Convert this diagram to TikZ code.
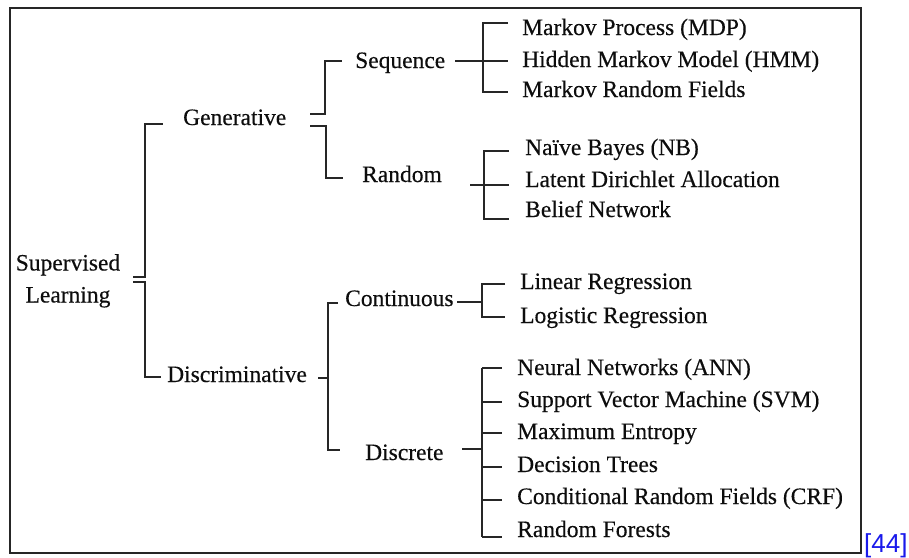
\documentclass[tikz,border=0pt]{standalone}
\usepackage{fontspec}
\setmainfont{Liberation Serif}[FakeBold=0.35]
\newfontfamily\refsans{Liberation Sans}
\begin{document}
\begin{tikzpicture}[x=1pt,y=-1pt,
  lbl/.style={anchor=base west,inner sep=0pt,text=black!95,
    font=\fontsize{23.5}{32}\selectfont},
  link/.style={draw=black!85,line width=1.4pt}]
\useasboundingbox (0,0) rectangle (909,557);
\draw[draw=black!85,line width=1.6pt] (10,8) rectangle (861,553);

% root
\node[inner sep=0pt,anchor=north,align=center,text=black!95,
  font=\fontsize{23.5}{32}\selectfont] (sup) at (68,254) {Supervised\\Learning};

% second level
\node[lbl] (gen) at (183,125) {Generative};
\node[lbl] (dis) at (167,382) {Discriminative};

% third level
\node[lbl] (seq) at (355,68) {Sequence};
\node[lbl] (ran) at (362,182) {Random};
\node[lbl] (con) at (345,306) {Continuous};
\node[lbl] (dsc) at (365,460) {Discrete};

% leaves
\node[lbl] (mdp) at (522,35) {Markov Process (MDP)};
\node[lbl] (hmm) at (522,67) {Hidden Markov Model (HMM)};
\node[lbl] (mrf) at (522,97) {Markov Random Fields};
\node[lbl] (nb)  at (525,155) {Naïve Bayes (NB)};
\node[lbl] (lda) at (525,187) {Latent Dirichlet Allocation};
\node[lbl] (bn)  at (525,217) {Belief Network};
\node[lbl] (lin) at (520,289) {Linear Regression};
\node[lbl] (log) at (520,323) {Logistic Regression};
\node[lbl] (ann) at (517,375) {Neural Networks (ANN)};
\node[lbl] (svm) at (517,407) {Support Vector Machine (SVM)};
\node[lbl] (me)  at (517,439) {Maximum Entropy};
\node[lbl] (dt)  at (517,472) {Decision Trees};
\node[lbl] (crf) at (517,504) {Conditional Random Fields (CRF)};
\node[lbl] (rf)  at (517,537) {Random Forests};

\node[anchor=base west,inner sep=0pt,text={rgb,255:red,25;green,25;blue,235},
  font=\refsans\fontsize{26}{30}\selectfont] (ref) at (864,552) {[44]};

% bracket end points
\coordinate (supA) at (133,277);
\coordinate (supB) at (133,282);
\coordinate (genIn) at (163,124);
\coordinate (disIn) at (161,377);
\coordinate (genA) at (310,114);
\coordinate (genB) at (310,126);
\coordinate (seqIn) at (342,61);
\coordinate (ranIn) at (343,178);
\coordinate (disOut) at (318,378);
\coordinate (conIn) at (338,303);
\coordinate (dscIn) at (340,450);

% Supervised Learning -> Generative / Discriminative
\draw[link] (supA) -- (145,277) -- (145,124) -- (genIn);
\draw[link] (supB) -- (145,282) -- (145,377) -- (disIn);

% Generative -> Sequence / Random
\draw[link] (genA) -- (325,114) -- (325,61) -- (seqIn);
\draw[link] (genB) -- (326,126) -- (326,178) -- (ranIn);

% Sequence -> leaves
\draw[link] (455,61) -- (508,61);
\draw[link] (508,23) -- (483,23) -- (483,92) -- (508,92);

% Random -> leaves
\draw[link] (470,185) -- (509,185);
\draw[link] (509,151) -- (484,151) -- (484,219) -- (509,219);

% Discriminative -> Continuous / Discrete
\draw[link] (disOut) -- (328,378);
\draw[link] (conIn) -- (328,303) -- (328,450) -- (dscIn);

% Continuous -> leaves
\draw[link] (457,302) -- (482,302);
\draw[link] (505,284) -- (482,284) -- (482,317) -- (505,317);

% Discrete -> leaves
\draw[link] (462,449) -- (482,449);
\draw[link] (482,368) -- (482,537);
\foreach \yy in {368,402,433,467,500,537}
  \draw[link] (482,\yy) -- (502,\yy);
\end{tikzpicture}
\end{document}
